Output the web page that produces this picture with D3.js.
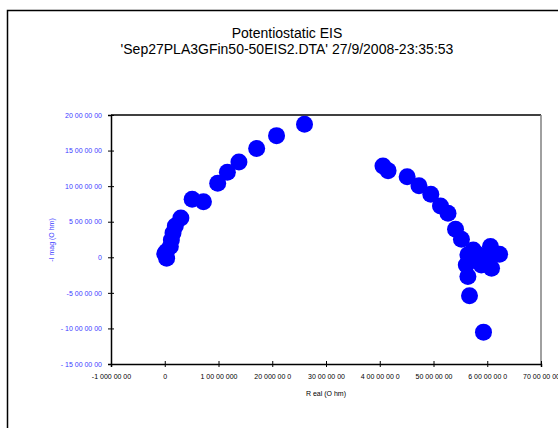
<!DOCTYPE html>
<html>
<head>
  <meta charset="utf-8">
  <script type="text/javascript" src="https://cdn.jsdelivr.net/npm/d3@7/dist/d3.min.js"></script>
  <style>
    body { margin: 0; background: #fff; }
    text { font-family: "Liberation Sans", Arial, sans-serif; }
  </style>
</head>
<body>
  <div id="viz"></div>
  <script type="text/javascript">
    var realVals = [
      2.60e6, 2.08e6, 1.71e6, 1.38e6, 1.165e6, 0.985e6, 0.72e6, 0.51e6, 0.30e6,
      0.197e6, 0.154e6, 0.123e6, 0.104e6, 0.03e6, 0.035e6, 0.0,
      4.06e6, 4.155e6, 4.51e6, 4.73e6, 4.95e6, 5.13e6, 5.27e6, 5.41e6, 5.52e6,
      6.06e6, 6.23e6, 6.08e6, 5.64e6, 5.61e6, 5.64e6, 5.83e6, 5.89e6, 5.74e6, 5.98e6,
      5.67e6, 5.93e6
    ];
    var imagVals = [
      1.87e6, 1.71e6, 1.53e6, 1.34e6, 1.195e6, 1.04e6, 0.78e6, 0.815e6, 0.553e6,
      0.44e6, 0.34e6, 0.244e6, 0.15e6, 0.08e6, -0.013e6, 0.05e6,
      1.284e6, 1.218e6, 1.133e6, 1.007e6, 0.886e6, 0.72e6, 0.62e6, 0.395e6, 0.254e6,
      0.15e6, 0.044e6, -0.153e6, -0.27e6, -0.107e6, 0.034e6, 0.034e6, -0.107e6, 0.104e6, -0.013e6,
      -0.542e6, -1.052e6
    ];

    var xTicks = [-1e6, 0, 1e6, 2e6, 3e6, 4e6, 5e6, 6e6, 7e6];
    var xTickLabels = ["-1 000 00 00", "0", "1 00 00 000", "20 000 00 0", "30 00 00 00",
                       "4 00 00 00 0", "50 00 00 00", "6 00 00 00 0", "70 00 00 00"];
    var yTicks = [2e6, 1.5e6, 1e6, 0.5e6, 0, -0.5e6, -1e6, -1.5e6];
    var yTickLabels = ["20 00 00 00", "15 00 00 00", "10 00 00 00", "5 00 00 00", "0",
                       "-5 00 00 00", "- 10 00 00 00", "- 15 00 00 00"];

    var W = 558, H = 428;
    var svg = d3.select("#viz").append("svg")
      .attr("width", W)
      .attr("height", H);

    // outer frame (runs off the right / bottom edge)
    svg.append("rect")
      .attr("x", 7.5).attr("y", 10.5)
      .attr("width", 600).attr("height", 500)
      .attr("fill", "none").attr("stroke", "#000").attr("stroke-width", 1.5);

    svg.append("text").attr("x", 287).attr("y", 38)
      .attr("text-anchor", "middle").attr("font-size", 14)
      .text("Potentiostatic EIS");
    svg.append("text").attr("x", 287).attr("y", 54)
      .attr("text-anchor", "middle").attr("font-size", 14)
      .text("'Sep27PLA3GFin50-50EIS2.DTA' 27/9/2008-23:35:53");

    var x = d3.scaleLinear().domain([-1e6, 7e6]).range([111, 541]);
    var y = d3.scaleLinear().domain([-1.5e6, 2e6]).range([364, 115]);

    // plot frame: top black, right grey
    svg.append("line").attr("x1", 111).attr("x2", 541).attr("y1", 115).attr("y2", 115)
      .attr("stroke", "#000").attr("stroke-width", 1.5);
    svg.append("line").attr("x1", 541).attr("x2", 541).attr("y1", 115).attr("y2", 364)
      .attr("stroke", "#808080").attr("stroke-width", 1.5);

    var xAxis = svg.append("g")
      .attr("transform", "translate(0," + 364 + ")")
      .call(d3.axisBottom(x).tickValues(xTicks).tickSize(3).tickPadding(7)
        .tickFormat(function(d, i) { return xTickLabels[i]; }));
    xAxis.select(".domain").attr("stroke", "#000").attr("stroke-width", 1.5);
    xAxis.selectAll(".tick line").attr("y1", -3).attr("y2", 3);
    xAxis.selectAll(".tick text").attr("font-size", 7).attr("fill", "#000")
      .style("font-family", "Liberation Sans, Arial, sans-serif");

    var yAxis = svg.append("g")
      .attr("transform", "translate(" + 111 + ",0)")
      .call(d3.axisLeft(y).tickValues(yTicks).tickSize(3).tickPadding(6)
        .tickFormat(function(d, i) { return yTickLabels[i]; }));
    yAxis.select(".domain").attr("stroke", "#000").attr("stroke-width", 1.5);
    yAxis.selectAll(".tick line").attr("x1", -3).attr("x2", 3);
    yAxis.selectAll(".tick text").attr("font-size", 7).attr("fill", "#3c3cff")
      .style("font-family", "Liberation Sans, Arial, sans-serif");

    svg.append("text").attr("x", 326).attr("y", 396)
      .attr("text-anchor", "middle").attr("font-size", 7)
      .text("R eal (O hm)");
    svg.append("text")
      .attr("transform", "translate(54,240) rotate(-90)")
      .attr("text-anchor", "middle").attr("font-size", 7).attr("fill", "#3c3cff")
      .text("-I mag (O hm)");

    svg.selectAll("circle.pt")
      .data(d3.range(realVals.length))
      .enter()
      .append("circle")
      .attr("class", "pt")
      .attr("cx", function(i) { return x(realVals[i]); })
      .attr("cy", function(i) { return y(imagVals[i]); })
      .attr("r", 8.5)
      .attr("fill", "#0000ff");
  </script>
</body>
</html>
